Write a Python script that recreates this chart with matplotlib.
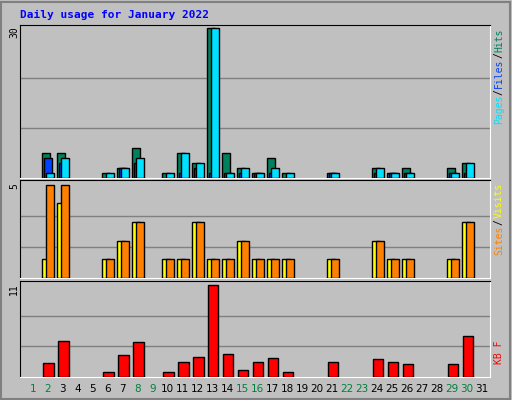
import matplotlib.pyplot as plt
from matplotlib.patches import Rectangle

dias = list(range(1, 32))
fines_semana = [1, 2, 8, 9, 15, 16, 22, 23, 29, 30]

# valores (0 = sin barra)
hits = [0, 5, 5, 0, 0, 1, 2, 6, 0, 1, 5, 3, 30, 5, 2, 1, 4, 1, 0, 0, 1, 0, 0, 2, 1, 2, 0, 0, 2, 3, 0]
files = [0, 1, 4, 0, 0, 1, 2, 4, 0, 1, 5, 3, 30, 1, 2, 1, 2, 1, 0, 0, 1, 0, 0, 2, 1, 1, 0, 0, 1, 3, 0]
pages = [0, 4, 3, 0, 0, 0, 2, 3, 0, 0, 1, 2, 1, 1, 1, 1, 1, 0, 0, 0, 1, 0, 0, 1, 1, 1, 0, 0, 1, 1, 0]
visits = [0, 1, 4, 0, 0, 1, 2, 3, 0, 1, 1, 3, 1, 1, 2, 1, 1, 1, 0, 0, 1, 0, 0, 2, 1, 1, 0, 0, 1, 3, 0]
sites = [0, 5, 5, 0, 0, 1, 2, 3, 0, 1, 1, 3, 1, 1, 2, 1, 1, 1, 0, 0, 1, 0, 0, 2, 1, 1, 0, 0, 1, 3, 0]
kbytes = [0, 1.64, 4.3, 0, 0, 0.56, 2.6, 4.2, 0, 0.56, 1.76, 2.36, 11, 2.7, 0.8, 1.76, 2.24, 0.56,
          0, 0, 1.76, 0, 0, 2.1, 1.76, 1.5, 0, 0, 1.5, 4.9, 0]

W, H = 512, 400
fig = plt.figure(figsize=(W / 100, H / 100), dpi=100, facecolor='#c0c0c0')
fig.patches.append(Rectangle((1 / W, 1 / H), 1 - 3 / W, 1 - 3 / H, transform=fig.transFigure,
                             fill=False, edgecolor='#808080', lw=1.5))

mono = 'DejaVu Sans Mono'
fig.text(20 / W, 1 - 15 / H, 'Daily usage for January 2022', color='#0000ff', fontsize=8,
         fontweight='bold', family=mono, va='center')


def panel(y0, y1):
    ax = fig.add_axes([20 / W, 1 - y1 / H, 470 / W, (y1 - y0) / H])
    ax.set_facecolor('#c0c0c0')
    ax.set_xlim(0.0, 31.35)
    for s in ax.spines.values():
        s.set_color('black')
    ax.spines['right'].set_color('white')
    ax.spines['bottom'].set_color('white')
    ax.set_xticks([])
    ax.set_yticks([])
    return ax


def barras(ax, vals, izq, ancho, color):
    xs = [d + izq for d, v in zip(dias, vals) if v > 0]
    hs = [v for v in vals if v > 0]
    ax.bar(xs, hs, width=ancho, align='edge', color=color, edgecolor='black', lw=1, zorder=3)


# panel de hits/files/pages
ax1 = panel(25, 178)
ax1.set_ylim(0, 30.6)
for g in [10, 20]:
    ax1.axhline(g, color='#808080', lw=1, zorder=1)
barras(ax1, hits, -0.53, 0.53, '#00805c')
barras(ax1, pages, -0.4, 0.53, '#0040ff')
barras(ax1, files, -0.27, 0.53, '#00e0ff')
fig.text(14 / W, 1 - 32 / H, '30', rotation=90, fontsize=7, va='center', ha='center', family=mono)

# panel de visits/sites
ax2 = panel(180, 278)
ax2.set_ylim(0, 5.25)
for g in [5 / 3, 10 / 3]:
    ax2.axhline(g, color='#808080', lw=1, zorder=1)
barras(ax2, visits, -0.53, 0.53, '#ffff00')
barras(ax2, sites, -0.27, 0.53, '#ff8000')
fig.text(14 / W, 1 - 186 / H, '5', rotation=90, fontsize=7, va='center', ha='center', family=mono)

# panel de KB
ax3 = panel(281, 377)
ax3.set_ylim(0, 11.5)
for g in [11 / 3, 22 / 3]:
    ax3.axhline(g, color='#808080', lw=1, zorder=1)
barras(ax3, kbytes, -0.47, 0.71, '#ff0000')
fig.text(14 / W, 1 - 289 / H, '11', rotation=90, fontsize=7, va='center', ha='center', family=mono)

# etiquetas de dias
for d in dias:
    col = '#008040' if d in fines_semana else 'black'
    x = 33 + 14.95 * (d - 1)
    fig.text(x / W, 1 - 389 / H, str(d), color=col, fontsize=7.5,
             ha='center', va='center', family='DejaVu Sans')

# leyendas verticales a la derecha (de arriba hacia abajo)
def leyenda(partes, ytop):
    y = ytop
    for txt, col in partes:
        fig.text(499 / W, 1 - y / H, txt, rotation=90, color=col, fontsize=7, family=mono,
                 ha='center', va='top')
        y += 6.1 * len(txt)

leyenda([('Hits', '#00805c'), ('/', 'black'), ('Files', '#0040ff'), ('/', 'black'), ('Pages', '#00e0ff')], 28)
leyenda([('Visits', '#ffff00'), ('/', 'black'), ('Sites', '#ff8000')], 183)
leyenda([('KB F', '#ff0000')], 340)

fig.savefig('out.png', dpi=100, facecolor=fig.get_facecolor())
